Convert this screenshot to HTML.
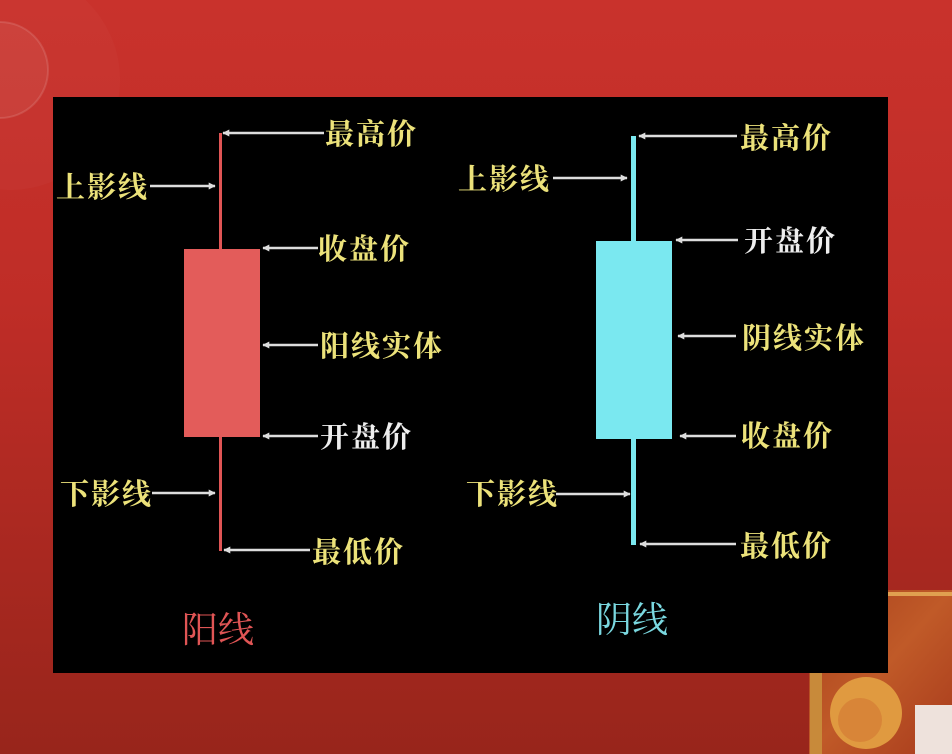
<!DOCTYPE html>
<html><head><meta charset="utf-8"><style>
html,body{margin:0;padding:0;width:952px;height:754px;overflow:hidden}
body{background:linear-gradient(180deg,#c9322c 0%,#bf2d27 40%,#a82820 75%,#98251b 100%);position:relative}
svg{position:absolute;left:0;top:0}
</style></head><body>
<svg width="952" height="754" viewBox="0 0 952 754" font-family="'Liberation Serif','Noto Serif CJK SC','Noto Sans CJK SC',serif" font-weight="bold">
<defs>
<marker id="ah" viewBox="0 0 10 10" refX="9" refY="5" markerWidth="9" markerHeight="7" orient="auto" markerUnits="userSpaceOnUse"><path d="M0,0 L10,5 L0,10 Z" fill="#ddd"/></marker>
<linearGradient id="img" x1="0" y1="0" x2="1" y2="1"><stop offset="0" stop-color="#a8401c"/><stop offset="0.5" stop-color="#c05a28"/><stop offset="1" stop-color="#a83a1c"/></linearGradient>
</defs>
<circle cx="0" cy="70" r="48" fill="#fff" fill-opacity="0.06" stroke="#fff" stroke-opacity="0.12" stroke-width="2"/>
<circle cx="10" cy="80" r="110" fill="#fff" fill-opacity="0.025"/>
<rect x="809" y="590" width="143" height="164" fill="url(#img)"/>
<rect x="809" y="592" width="143" height="4" fill="#e0a050"/>
<rect x="810" y="596" width="12" height="158" fill="#c88a3a"/>
<circle cx="866" cy="713" r="36" fill="#e09a40"/>
<circle cx="860" cy="720" r="22" fill="#d07030" opacity="0.5"/>
<rect x="915" y="705" width="37" height="49" fill="#eee2dc"/>
<rect x="53" y="97" width="835" height="576" fill="#000"/>
<g stroke="#ddd" stroke-width="2.5" marker-end="url(#ah)">
<line x1="324" y1="133" x2="223" y2="133"/>
<line x1="150" y1="186" x2="215" y2="186"/>
<line x1="318" y1="248" x2="263" y2="248"/>
<line x1="318" y1="345" x2="263" y2="345"/>
<line x1="318" y1="436" x2="263" y2="436"/>
<line x1="152" y1="493" x2="215" y2="493"/>
<line x1="310" y1="550" x2="224" y2="550"/>
<line x1="737" y1="136" x2="639" y2="136"/>
<line x1="553" y1="178" x2="627" y2="178"/>
<line x1="738" y1="240" x2="676" y2="240"/>
<line x1="736" y1="336" x2="678" y2="336"/>
<line x1="736" y1="436" x2="680" y2="436"/>
<line x1="556" y1="494" x2="630" y2="494"/>
<line x1="736" y1="544" x2="640" y2="544"/>
</g>
<rect x="219" y="133" width="3" height="418" fill="#e05555"/>
<rect x="184" y="249" width="76" height="188" fill="#e35c5a"/>
<rect x="631" y="136" width="5" height="409" fill="#7ae8f0"/>
<rect x="596" y="241" width="76" height="198" fill="#7ae8f0"/>
<g font-size="29" fill="#ece27a" letter-spacing="2">
<text x="325" y="144">最高价</text>
<text x="56" y="197">上影线</text>
<text x="318" y="259">收盘价</text>
<text x="320" y="356">阳线实体</text>
<text x="320" y="447" fill="#eee">开盘价</text>
<text x="60" y="504">下影线</text>
<text x="312" y="562">最低价</text>
<text x="740" y="148">最高价</text>
<text x="458" y="189">上影线</text>
<text x="744" y="251" fill="#eee">开盘价</text>
<text x="742" y="348">阴线实体</text>
<text x="741" y="446">收盘价</text>
<text x="466" y="504">下影线</text>
<text x="740" y="556">最低价</text>
</g>
<text x="182" y="642" font-size="36" fill="#e05555" font-weight="normal">阳线</text>
<text x="596" y="632" font-size="36" fill="#7ad8e0" font-weight="normal">阴线</text>
</svg>
</body></html>
